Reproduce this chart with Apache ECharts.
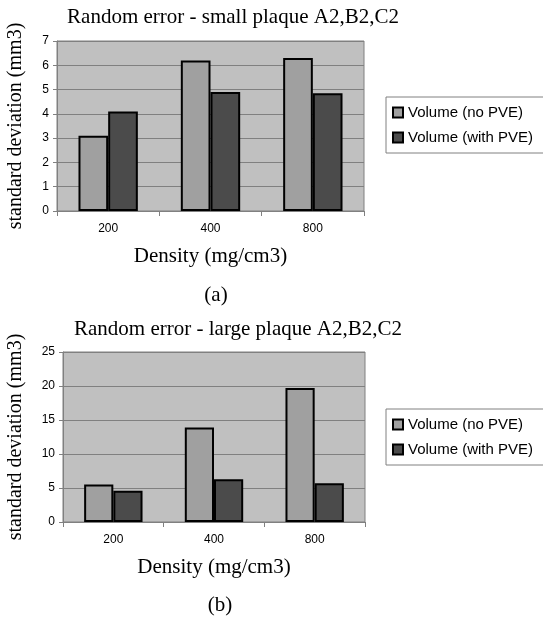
<!DOCTYPE html>
<html>
<head>
<meta charset="utf-8">
<script src="https://cdn.jsdelivr.net/npm/echarts@6/dist/echarts.min.js"></script>
<style>
  html, body { margin: 0; padding: 0; background: #fff; }
  #chart { width: 543px; height: 618px; }
</style>
</head>
<body>
<div id="chart"></div>
<script>
const categories = ['200', '400', '800']
const seriesNames = ['Volume (no PVE)', 'Volume (with PVE)']

// (a) small plaque
const smallNoPve = [3.1, 6.2, 6.3]
const smallWithPve = [4.1, 4.9, 4.85]
// (b) large plaque
const largeNoPve = [5.5, 13.9, 19.7]
const largeWithPve = [4.6, 6.3, 5.7]

const serif = '"Liberation Serif", "Times New Roman", serif'
const sans = '"Liberation Sans", Arial, sans-serif'
const lightGray = '#a0a0a0'
const darkGray = '#4b4b4b'

const chart = echarts.init(document.getElementById('chart'))

function xAxis(gridIndex) {
  return {
    type: 'category',
    gridIndex,
    data: categories,
    name: 'Density (mg/cm3)',
    nameLocation: 'middle',
    nameGap: 35,
    nameTextStyle: { fontFamily: serif, fontSize: 21, color: '#000' },
    axisLine: { lineStyle: { color: '#808080', width: 1 } },
    axisTick: { show: true, length: 5, lineStyle: { color: '#808080' } },
    axisLabel: { fontFamily: sans, fontSize: 12, color: '#000', margin: 12 }
  }
}

function yAxis(gridIndex, max, interval, gap) {
  return {
    type: 'value',
    gridIndex,
    min: 0,
    max,
    interval,
    name: 'standard deviation (mm3)',
    nameLocation: 'middle',
    nameRotate: 90,
    nameGap: gap,
    nameTextStyle: { fontFamily: serif, fontSize: 20, color: '#000' },
    axisLine: { show: true, lineStyle: { color: '#808080', width: 1 } },
    axisTick: { show: true, length: 4, lineStyle: { color: '#808080' } },
    axisLabel: { fontFamily: sans, fontSize: 12, color: '#000', margin: 8 },
    splitLine: { lineStyle: { color: '#808080', width: 1 } }
  }
}

function bar(name, data, color, index) {
  return {
    name,
    type: 'bar',
    xAxisIndex: index,
    yAxisIndex: index,
    data,
    barGap: '0%',
    barCategoryGap: '42%',
    itemStyle: { color, borderColor: '#000', borderWidth: 2 }
  }
}

function legend(top) {
  return {
    data: seriesNames,
    orient: 'vertical',
    left: 386,
    top,
    icon: 'rect',
    itemWidth: 10,
    itemHeight: 10,
    itemGap: 10,
    padding: [8, 12, 8, 6],
    borderColor: '#808080',
    borderWidth: 1,
    backgroundColor: '#fff',
    selectedMode: false,
    textStyle: { fontFamily: sans, fontSize: 15, color: '#000' }
  }
}

const titleStyle = { fontFamily: serif, fontSize: 21, fontWeight: 'normal', color: '#000' }

chart.setOption({
  animation: false,
  title: [
    { text: 'Random error - small plaque A2,B2,C2', left: 228, top: 2, textAlign: 'center', textStyle: titleStyle },
    { text: 'Random error - large plaque A2,B2,C2', left: 233, top: 314, textAlign: 'center', textStyle: titleStyle },
    { text: '(a)', left: 211, top: 280, textAlign: 'center', textStyle: titleStyle },
    { text: '(b)', left: 215, top: 590, textAlign: 'center', textStyle: titleStyle }
  ],
  legend: [legend(97), legend(409)],
  grid: [
    { left: 57, top: 41, width: 307, height: 170, outerBoundsMode: 'none', show: true, backgroundColor: '#c0c0c0', borderColor: '#808080', borderWidth: 1 },
    { left: 63, top: 352, width: 302, height: 170, outerBoundsMode: 'none', show: true, backgroundColor: '#c0c0c0', borderColor: '#808080', borderWidth: 1 }
  ],
  xAxis: [xAxis(0), xAxis(1)],
  yAxis: [yAxis(0, 7, 1, 31), yAxis(1, 25, 5, 37)],
  series: [
    bar(seriesNames[0], smallNoPve, lightGray, 0),
    bar(seriesNames[1], smallWithPve, darkGray, 0),
    bar(seriesNames[0], largeNoPve, lightGray, 1),
    bar(seriesNames[1], largeWithPve, darkGray, 1)
  ]
})
</script>
</body>
</html>
